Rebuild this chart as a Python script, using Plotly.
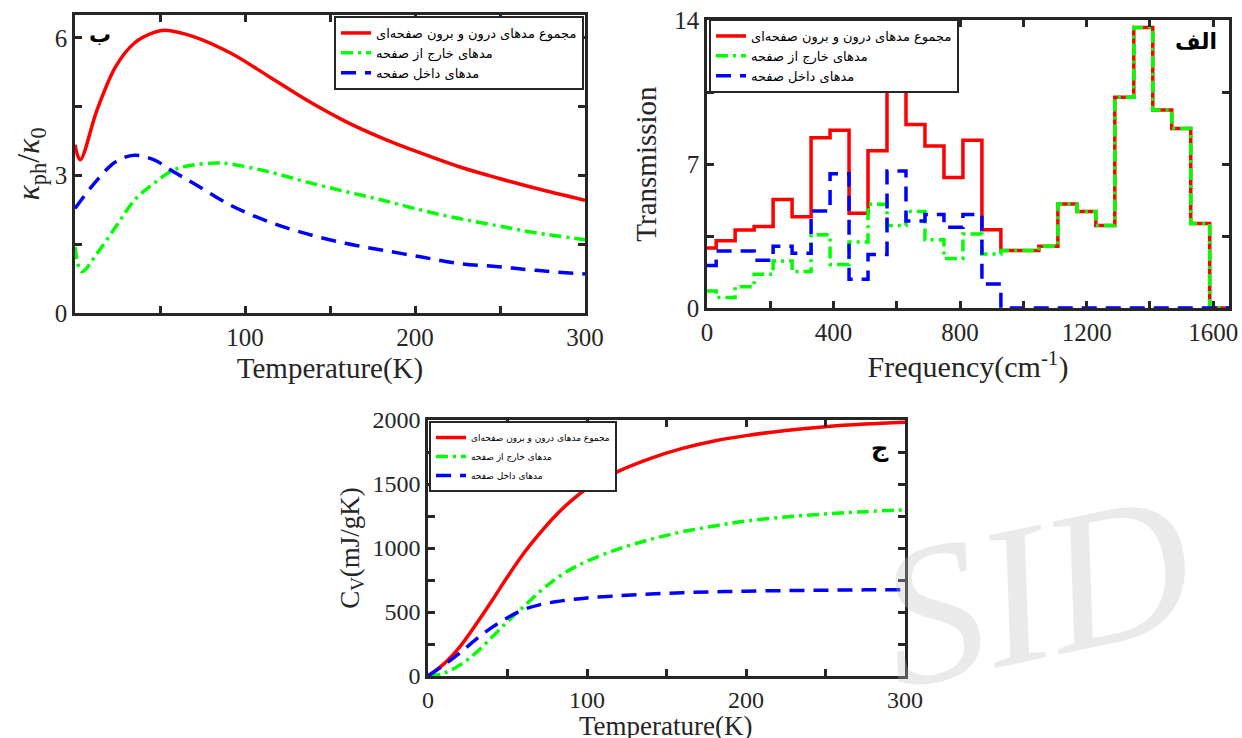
import plotly.graph_objects as go

# ---------------- data ----------------
# panel (ب): thermal conductivity ratio vs temperature
T_k = [0, 3, 13, 24, 35, 46.5, 53, 69.7, 91.5, 114, 136, 159, 181, 204, 226, 249, 271, 300]
k_total = [3.67, 3.34, 4.43, 5.38, 5.89, 6.12, 6.17, 6.03, 5.67, 5.16, 4.65, 4.18, 3.81, 3.48, 3.19, 2.94, 2.72, 2.46]
T_k2 = [0, 4, 13, 24, 35, 46.5, 58, 69.7, 83, 91.5, 114, 136, 159, 181, 204, 226, 249, 271, 300]
k_out = [1.44, 0.90, 1.30, 1.88, 2.46, 2.83, 3.12, 3.23, 3.27, 3.25, 3.08, 2.86, 2.65, 2.46, 2.24, 2.06, 1.90, 1.75, 1.60]
T_k3 = [0, 13, 24, 35, 46.5, 58, 69.7, 91.5, 114, 136, 159, 181, 204, 226, 249, 271, 300]
k_in = [2.28, 2.90, 3.30, 3.44, 3.34, 3.08, 2.83, 2.35, 1.99, 1.73, 1.52, 1.37, 1.22, 1.08, 1.01, 0.93, 0.85]

# panel (الف): transmission vs frequency (step edges and bin values)
freq_edges = [0, 29, 89, 149, 209, 269, 329, 389, 449, 509, 569, 629, 689, 749, 809,
              869, 929, 989, 1049, 1109, 1169, 1229, 1289, 1349, 1409, 1469, 1529, 1589, 1650]
tr_total = [2.92, 3.27, 3.79, 3.96, 5.28, 4.43, 8.27, 8.64, 4.61, 7.64, 10.67, 8.92, 7.87, 6.34,
            8.15, 3.80, 2.79, 2.79, 3.0, 5.06, 4.69, 4.01, 10.24, 13.63, 9.63, 8.73, 4.11, 0]
tr_out = [0.83, 0.51, 1.03, 1.64, 2.28, 1.77, 3.56, 2.12, 3.21, 5.04, 4.01, 4.69, 3.32, 2.41,
          3.6, 2.63, 2.79, 2.79, 3.0, 5.06, 4.69, 4.01, 10.24, 13.63, 9.63, 8.73, 4.11, 0]
tr_in = [2.07, 2.77, 2.77, 2.32, 3.0, 2.66, 4.71, 6.52, 1.40, 2.6, 6.66, 4.23, 4.55, 3.93,
         4.55, 1.17, 0, 0, 0, 0, 0, 0, 0, 0, 0, 0, 0, 0]

# panel (ج): heat capacity vs temperature
T_c = [0, 10, 20, 30, 40, 50, 60, 70, 80, 90, 100, 120, 140, 160, 180, 200, 225, 250, 275, 300]
cv_total = [0, 95, 228, 400, 584, 775, 955, 1110, 1250, 1368, 1465, 1600, 1700, 1778, 1836, 1878, 1918, 1948, 1968, 1982]
cv_out = [0, 22, 85, 180, 300, 425, 540, 655, 755, 835, 897, 993, 1068, 1127, 1172, 1210, 1243, 1266, 1284, 1299]
cv_in = [0, 85, 180, 285, 378, 455, 518, 556, 580, 597, 610, 627, 641, 651, 658, 663, 667, 670, 673, 675]

names = ["مجموع مدهای درون و برون صفحه‌ای", "مدهای خارج از صفحه", "مدهای داخل صفحه"]

# ---------------- styles ----------------
RED = "#ff0000"
GREEN = "#00ff00"
BLUE = "#0000ff"
DASH_B = "15px,9px"
DASH_G = "12px,5px,3px,5px"
AX = "#262626"
SERIF = "Liberation Serif, Times New Roman, DejaVu Serif, serif"
ARAB = "DejaVu Sans, Noto Sans, sans-serif"

fig = go.Figure()

# top-left panel
fig.add_trace(go.Scatter(x=T_k, y=k_total, mode="lines", line=dict(color=RED, width=3.5, shape="spline"),
                         name=names[0], legend="legend", xaxis="x", yaxis="y"))
fig.add_trace(go.Scatter(x=T_k2, y=k_out, mode="lines", line=dict(color=GREEN, width=3.5, dash=DASH_G, shape="spline"),
                         name=names[1], legend="legend", xaxis="x", yaxis="y"))
fig.add_trace(go.Scatter(x=T_k3, y=k_in, mode="lines", line=dict(color=BLUE, width=3.5, dash=DASH_B, shape="spline"),
                         name=names[2], legend="legend", xaxis="x", yaxis="y"))

# top-right panel (steps)
def ext(v):
    return list(v) + [v[-1]]

fig.add_trace(go.Scatter(x=freq_edges, y=ext(tr_total), mode="lines", line=dict(color=RED, width=3.5, shape="hv"),
                         name=names[0], legend="legend2", xaxis="x2", yaxis="y2"))
fig.add_trace(go.Scatter(x=freq_edges, y=ext(tr_out), mode="lines", line=dict(color=GREEN, width=3.5, dash=DASH_G, shape="hv"),
                         name=names[1], legend="legend2", xaxis="x2", yaxis="y2"))
fig.add_trace(go.Scatter(x=freq_edges, y=ext(tr_in), mode="lines", line=dict(color=BLUE, width=3.5, dash=DASH_B, shape="hv"),
                         name=names[2], legend="legend2", xaxis="x2", yaxis="y2"))

# bottom panel
fig.add_trace(go.Scatter(x=T_c, y=cv_total, mode="lines", line=dict(color=RED, width=3.5, shape="spline"),
                         name=names[0], legend="legend3", xaxis="x3", yaxis="y3"))
fig.add_trace(go.Scatter(x=T_c, y=cv_out, mode="lines", line=dict(color=GREEN, width=3.5, dash=DASH_G, shape="spline"),
                         name=names[1], legend="legend3", xaxis="x3", yaxis="y3"))
fig.add_trace(go.Scatter(x=T_c, y=cv_in, mode="lines", line=dict(color=BLUE, width=3.5, dash=DASH_B, shape="spline"),
                         name=names[2], legend="legend3", xaxis="x3", yaxis="y3"))

W, H = 1242, 738

def ax(domain, rng, tickvals, ticktext, title, tfs, anchor, standoff, fs=25):
    return dict(domain=domain, range=rng, tickvals=tickvals, ticktext=ticktext, automargin=False,
                showline=True, linewidth=2.5, linecolor=AX, mirror="ticks",
                ticks="inside", ticklen=7, tickwidth=2.5, tickcolor=AX,
                showgrid=False, zeroline=False, anchor=anchor,
                tickfont=dict(family=SERIF, size=fs, color="#262626"),
                title=dict(text=title, font=dict(family=SERIF, size=tfs, color="#262626"), standoff=standoff))

def lbl(text, x, y, size, fam=ARAB):
    return dict(text=text, x=x / W, y=1 - y / H, xref="paper", yref="paper", showarrow=False,
                xanchor="center", yanchor="middle", font=dict(family=fam, size=size, color="black"))

layout = dict(
    width=W, height=H, margin=dict(l=0, r=0, t=0, b=0, autoexpand=False),
    paper_bgcolor="white", plot_bgcolor="white", showlegend=True,
    xaxis=ax([75 / W, 585 / W], [0, 300], [50, 100, 150, 200, 250, 300], ["", "100", "", "200", "", "300"],
             "Temperature(K)", 29, "y", 8),
    yaxis=ax([1 - 313 / H, 1 - 15 / H], [0, 6.5], [0, 1.5, 3, 4.5, 6], ["0", "", "3", "", "6"],
             "<i>κ</i><sub>ph</sub>/<i>κ</i><sub>0</sub>", 32, "x", 6),
    xaxis2=ax([707 / W, 1229 / W], [0, 1650], [0, 200, 400, 600, 800, 1000, 1200, 1400, 1600],
              ["0", "", "400", "", "800", "", "1200", "", "1600"], "Frequency(cm<sup>-1</sup>)", 30, "y2", 8),
    yaxis2=ax([1 - 308 / H, 1 - 20 / H], [0, 14], [0, 3.5, 7, 10.5, 14], ["0", "", "7", "", "14"],
              "Transmission", 29, "x2", 10),
    xaxis3=ax([428 / W, 905 / W], [0, 300], [0, 50, 100, 150, 200, 250, 300], ["0", "", "100", "", "200", "", "300"],
              "", 27, "y3", 12, fs=24),
    yaxis3=ax([1 - 676 / H, 1 - 420 / H], [0, 2000], [0, 250, 500, 750, 1000, 1250, 1500, 1750, 2000],
              ["0", "", "500", "", "1000", "", "1500", "", "2000"], "C<sub>V</sub>(mJ/gK)", 27, "x3", 6, fs=24),
    legend=dict(x=584 / W, y=1 - 16 / H, xanchor="right", yanchor="top", bgcolor="white",
                bordercolor=AX, borderwidth=2, font=dict(family=ARAB, size=13, color="black"),
                tracegroupgap=0, itemwidth=30),
    legend2=dict(x=709 / W, y=1 - 19 / H, xanchor="left", yanchor="top", bgcolor="white",
                 bordercolor=AX, borderwidth=2, font=dict(family=ARAB, size=13, color="black"),
                 tracegroupgap=0, itemwidth=30),
    legend3=dict(x=429 / W, y=1 - 421 / H, xanchor="left", yanchor="top", bgcolor="white",
                 bordercolor=AX, borderwidth=2, font=dict(family=ARAB, size=9, color="black"),
                 tracegroupgap=0, itemwidth=30),
    annotations=[
        lbl("<b>ب</b>", 100, 34, 22),
        lbl("<b>الف</b>", 1196, 42, 22),
        lbl("<b>ج</b>", 880, 448, 24),
        dict(text="Temperature(K)", x=666 / W, y=1 - 726 / H, xref="paper", yref="paper", showarrow=False,
             xanchor="center", yanchor="middle", font=dict(family=SERIF, size=27, color="#262626")),
        dict(text="<i>SID</i>", x=1035 / W, y=1 - 590 / H, xref="paper", yref="paper", showarrow=False,
             xanchor="center", yanchor="middle", textangle=-12,
             font=dict(family=SERIF, size=200, color="rgba(190,190,190,0.33)")),
    ],
)
fig.update_layout(**layout)
fig.write_html("out.html", config={"displayModeBar": False},
               post_script="document.body.style.margin='0px';document.body.style.overflow='hidden';")
